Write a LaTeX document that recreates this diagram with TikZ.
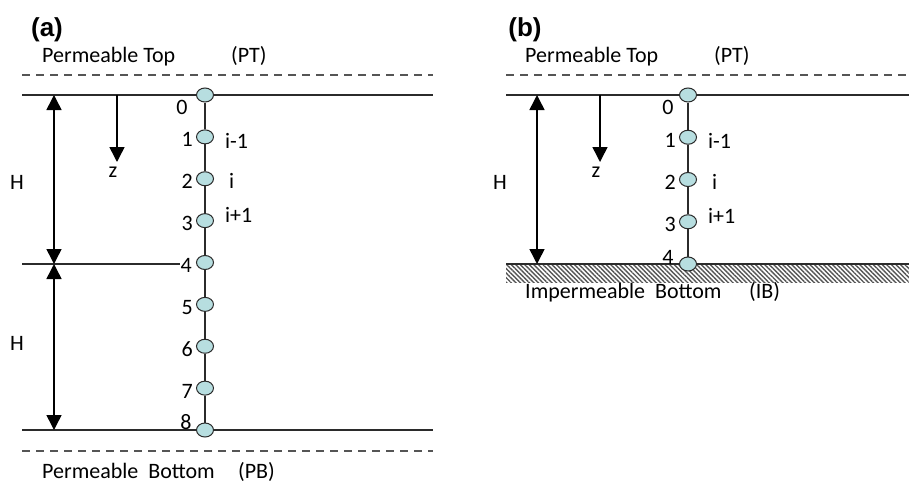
\documentclass[tikz,border=0pt]{standalone}
\usepackage{fontspec}
\setmainfont{Carlito}
\newfontfamily\panelfont{Liberation Sans}
\usetikzlibrary{arrows.meta, positioning, calc, shapes.geometric, patterns.meta}
\definecolor{mCyan}{HTML}{B7DEE0}
\definecolor{mGray}{HTML}{555555}
\definecolor{mLine}{HTML}{2B2B2B}

\begin{document}
\begin{tikzpicture}[x=1pt, y=-1pt,
    lbl/.style={font=\fontsize{22}{25}\selectfont, inner sep=0pt},
    panel/.style={font=\panelfont\bfseries\fontsize{26}{30}\selectfont, inner sep=0pt},
    gridpt/.style={ellipse, draw=mLine, fill=mCyan, line width=1pt, minimum width=17pt, minimum height=14pt, inner sep=0pt},
    layer/.style={mLine, line width=1.2pt},
    dashline/.style={mGray, line width=1.2pt, dash pattern=on 8pt off 6pt},
    dim/.style={black, line width=1.5pt, {Triangle[width=15pt,length=15pt]}-{Triangle[width=15pt,length=15pt]}},
    zarrow/.style={black, line width=1.5pt, -{Triangle[width=15pt,length=15pt]}}]
  \useasboundingbox (0,0) rectangle (909,482);

  % (a) permeable top and bottom
  \node[panel] (pa) at (47,30) {(a)};
  \node[lbl, anchor=base west] (topa) at (42,62) {Permeable Top};
  \node[lbl, anchor=base west] (pta) at (231,62) {(PT)};
  \draw[dashline] (22,75) -- (433,75);
  \coordinate (aTL) at (22,95);
  \coordinate (aTR) at (433,95);
  \coordinate (aBL) at (22,430);
  \coordinate (aBR) at (433,430);
  \draw[layer] (aTL) -- (aTR);
  \draw[layer] (aBL) -- (aBR);
  \draw[dashline] (22,451) -- (433,451);
  \node[lbl, anchor=base west] (bota) at (42,478) {Permeable\ \ Bottom};
  \node[lbl, anchor=base west] (pba) at (238,478) {(PB)};

  \foreach \k in {0,...,8}
    \node[gridpt] (a\k) at (205,95+41.875*\k) {};
  \foreach \k [remember=\k as \last (initially 0)] in {1,...,8}
    \draw[layer] (a\last) -- (a\k);
  \foreach \k in {1,2,3,5,6,7}
    \node[lbl, anchor=east] (na\k) at ($(a\k)+(-12,3)$) {\k};
  \node[lbl] (na0) at ($(a0)+(-23,12)$) {0};
  \node[lbl, anchor=east] (na4) at ($(a4)+(-13,3)$) {4};
  \node[lbl] (na8) at ($(a8)+(-19,-8)$) {8};
  \coordinate (aML) at (22,264);
  \draw[layer] (aML) -- (aML -| na4.west);

  \node[lbl, anchor=west] (ia1) at ($(a1)+(20,4)$) {i-1};
  \node[lbl, anchor=west] (ia2) at ($(a2)+(24,2)$) {i};
  \node[lbl, anchor=west] (ia3) at ($(a3)+(20,-6)$) {i+1};

  % thickness arrows
  \coordinate (aH0) at (54,95);
  \coordinate (aH1) at (54,264);
  \coordinate (aH2) at (54,430);
  \draw[dim] (aH0) -- (aH1);
  \draw[dim] (aH1) -- (aH2);
  \node[lbl] (Ha1) at (17,182) {H};
  \node[lbl] (Ha2) at (17,343) {H};
  \coordinate (za0) at (117,95);
  \coordinate (za1) at (117,162);
  \draw[zarrow] (za0) -- (za1);
  \node[lbl, anchor=north] (za) at ($(za1)+(-4,5)$) {z};

  % (b) impermeable bottom
  \begin{scope}[xshift=483pt]
    \node[panel] (pb) at (42,30) {(b)};
    \node[lbl, anchor=base west] (topb) at (42,62) {Permeable Top};
    \node[lbl, anchor=base west] (ptb) at (231,62) {(PT)};
    \draw[dashline] (23,75) -- (426,75);
    \coordinate (bTL) at (23,95);
    \coordinate (bTR) at (426,95);
    \coordinate (bBL) at (23,264);
    \coordinate (bBR) at (426,264);
    \fill[pattern={Lines[angle=-45, distance=3.2pt, line width=1.4pt]}, pattern color=mGray]
      (23,264) rectangle (426,282);
    \draw[layer] (bTL) -- (bTR);
    \draw[layer] (bBL) -- (bBR);
    \node[lbl, anchor=base west] (botb) at (42,298) {Impermeable\ \ Bottom};
    \node[lbl, anchor=base west] (ibb) at (266,298) {(IB)};

    \foreach \k in {0,...,4}
      \node[gridpt] (b\k) at (205,95+42.25*\k) {};
    \foreach \k [remember=\k as \last (initially 0)] in {1,...,4}
      \draw[layer] (b\last) -- (b\k);
    \foreach \k in {1,2,3}
      \node[lbl, anchor=east] (nb\k) at ($(b\k)+(-12,3)$) {\k};
    \node[lbl] (nb0) at ($(b0)+(-20,12)$) {0};
    \node[lbl] (nb4) at ($(b4)+(-20,-7)$) {4};

    \node[lbl, anchor=west] (ib1) at ($(b1)+(20,4)$) {i-1};
    \node[lbl, anchor=west] (ib2) at ($(b2)+(24,2)$) {i};
    \node[lbl, anchor=west] (ib3) at ($(b3)+(20,-6)$) {i+1};

    \coordinate (bH0) at (54,95);
    \coordinate (bH1) at (54,264);
    \draw[dim] (bH0) -- (bH1);
    \node[lbl] (Hb) at (17,182) {H};
    \coordinate (zb0) at (117,95);
    \coordinate (zb1) at (117,162);
    \draw[zarrow] (zb0) -- (zb1);
    \node[lbl, anchor=north] (zb) at ($(zb1)+(-4,5)$) {z};
  \end{scope}
\end{tikzpicture}
\end{document}
